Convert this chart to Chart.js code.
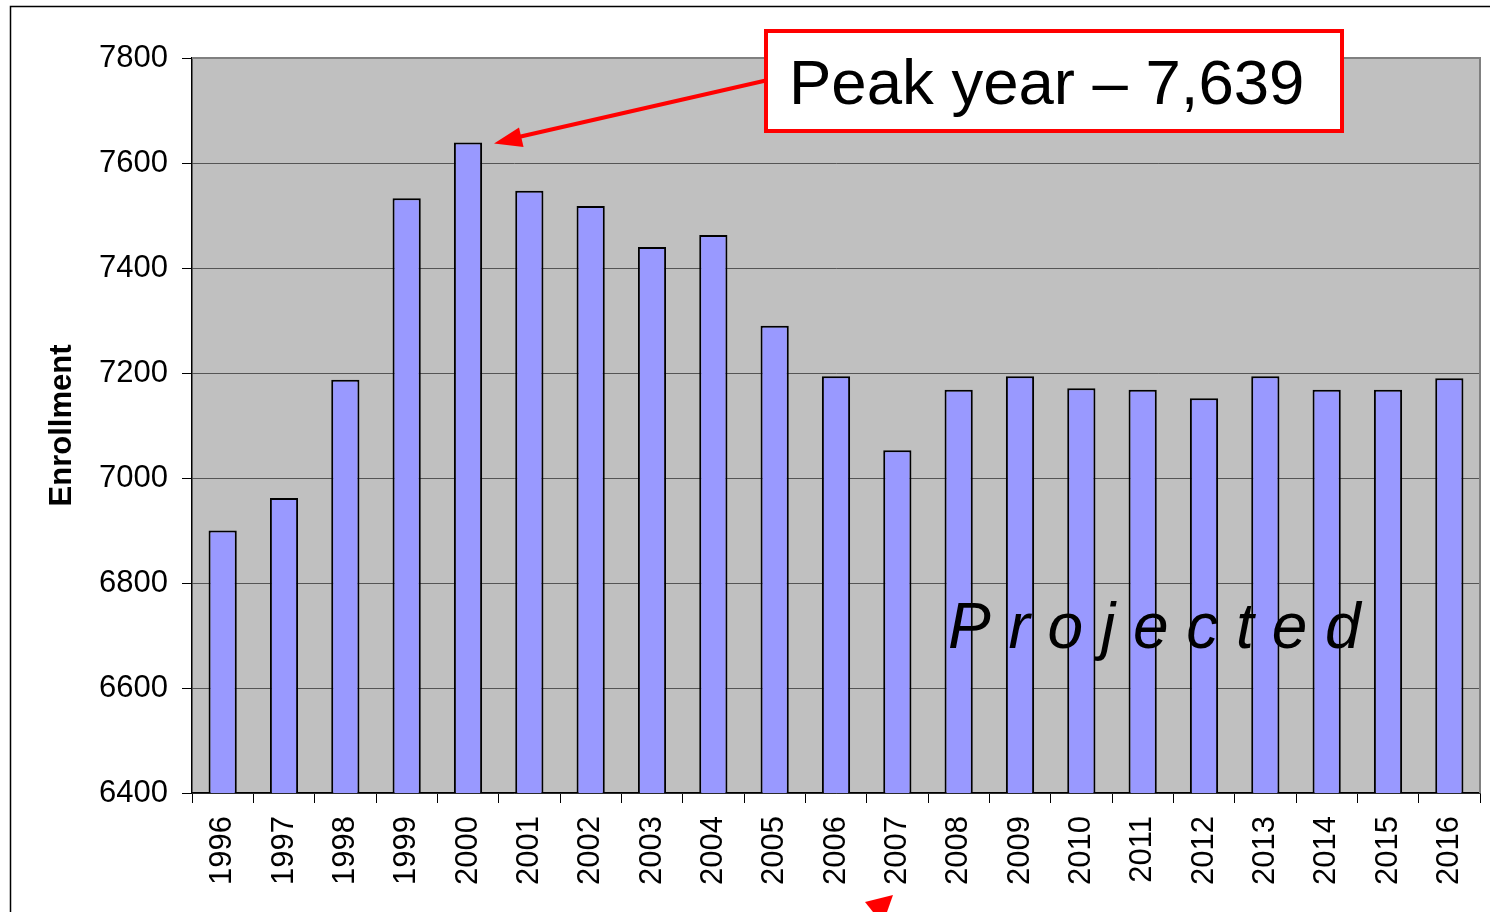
<!DOCTYPE html>
<html>
<head>
<meta charset="utf-8">
<script src="https://cdn.jsdelivr.net/npm/chart.js@4"></script>
<style>
  html, body { margin: 0; padding: 0; background: #fff; }
  #wrap { width: 1490px; height: 912px; }
</style>
</head>
<body>
<div id="wrap"><canvas id="enrollChart" width="1490" height="912"></canvas></div>
<script>
// years on the x axis
const years = ["1996", "1997", "1998", "1999", "2000", "2001", "2002", "2003", "2004", "2005", "2006",
    "2007", "2008", "2009", "2010", "2011", "2012", "2013", "2014", "2015", "2016"];

// enrollment per year (2007 onward projected)
const enrollment = [6900, 6962, 7187, 7533, 7639, 7547, 7518, 7440, 7463, 7290, 7194,
    7053, 7168, 7194, 7171, 7168, 7152, 7194, 7168, 7168, 7190];

// y axis range and step
const yMin = 6400;
const yMax = 7800;
const yStep = 200;

const peakLabel = "Peak year \u2013 7,639";
const projectedLabel = "P r o j e c t e d";

const FONT = "'Liberation Sans', Arial, sans-serif";

// grey plot background + frame round the page
const backdrop = {
    id: "backdrop",
    beforeDraw(chart) {
        const ctx = chart.ctx;
        const a = chart.chartArea;
        ctx.save();
        ctx.fillStyle = "#ffffff";
        ctx.fillRect(0, 0, chart.width, chart.height);
        ctx.fillStyle = "#c0c0c0";
        ctx.fillRect(a.left, a.top, a.right - a.left, a.bottom - a.top);
        // outer frame (top and left edges only visible)
        ctx.strokeStyle = "#000";
        ctx.lineWidth = 1.5;
        ctx.beginPath();
        ctx.moveTo(chart.width, 6.5);
        ctx.lineTo(10.5, 6.5);
        ctx.lineTo(10.5, chart.height);
        ctx.stroke();
        ctx.restore();
    },
    afterDatasetsDraw(chart) {
        const ctx = chart.ctx;
        const a = chart.chartArea;
        ctx.save();
        ctx.strokeStyle = "#808080";
        ctx.lineWidth = 2;
        ctx.beginPath();
        ctx.moveTo(a.left, a.top);
        ctx.lineTo(a.right, a.top);
        ctx.lineTo(a.right, a.bottom);
        ctx.stroke();
        ctx.restore();
    }
};

function arrowHead(ctx, tipX, tipY, fromX, fromY, len, half) {
    const ang = Math.atan2(tipY - fromY, tipX - fromX);
    ctx.beginPath();
    ctx.moveTo(tipX, tipY);
    ctx.lineTo(tipX - len * Math.cos(ang) + half * Math.sin(ang), tipY - len * Math.sin(ang) - half * Math.cos(ang));
    ctx.lineTo(tipX - len * Math.cos(ang) - half * Math.sin(ang), tipY - len * Math.sin(ang) + half * Math.cos(ang));
    ctx.closePath();
    ctx.fill();
}

// callout box, arrows and the "Projected" overlay
const notes = {
    id: "notes",
    afterDraw(chart) {
        const ctx = chart.ctx;
        const x = chart.scales.x;
        const y = chart.scales.y;
        ctx.save();

        // Projected text over the bars
        ctx.fillStyle = "#000";
        ctx.font = "italic 64px " + FONT;
        ctx.textBaseline = "alphabetic";
        ctx.textAlign = "left";
        ctx.fillText(projectedLabel, 948, 648);

        // arrow to the peak bar
        const peakIdx = enrollment.indexOf(Math.max(...enrollment));
        const tipX = x.getPixelForValue(peakIdx) + 26;
        const tipY = y.getPixelForValue(enrollment[peakIdx]) + 1;
        const fromX = 768, fromY = 80;
        ctx.strokeStyle = "#ff0000";
        ctx.fillStyle = "#ff0000";
        ctx.lineWidth = 4;
        ctx.beginPath();
        ctx.moveTo(fromX, fromY);
        ctx.lineTo(tipX + 18, tipY - 5);
        ctx.stroke();
        arrowHead(ctx, tipX, tipY, fromX, fromY, 28, 10);

        // callout box
        ctx.fillStyle = "#ffffff";
        ctx.fillRect(766, 31, 576, 100);
        ctx.strokeStyle = "#ff0000";
        ctx.lineWidth = 4;
        ctx.strokeRect(766, 31, 576, 100);
        ctx.fillStyle = "#000";
        ctx.font = "63.5px " + FONT;
        ctx.fillText(peakLabel, 789, 104);

        // partial arrow at the bottom edge pointing at 2007
        ctx.fillStyle = "#ff0000";
        ctx.beginPath();
        ctx.moveTo(893, 895);
        ctx.lineTo(865, 902);
        ctx.lineTo(873, 912);
        ctx.lineTo(887, 912);
        ctx.closePath();
        ctx.fill();

        ctx.restore();
    }
};

const ctx = document.getElementById("enrollChart").getContext("2d");
new Chart(ctx, {
    type: "bar",
    data: {
        labels: years,
        datasets: [{
            label: "Enrollment",
            data: enrollment,
            backgroundColor: "#9999ff",
            borderColor: "#000000",
            borderWidth: 2,
            borderSkipped: "bottom",
            barPercentage: 0.46,
            categoryPercentage: 1.0
        }]
    },
    options: {
        responsive: false,
        animation: false,
        devicePixelRatio: 1,
        layout: { padding: { top: 58, right: 10, left: 0, bottom: 0 } },
        plugins: {
            legend: { display: false },
            tooltip: { enabled: false }
        },
        scales: {
            x: {
                offset: true,
                grid: {
                    offset: true,
                    drawOnChartArea: false,
                    drawTicks: true,
                    tickLength: 10,
                    tickColor: "#000",
                    lineWidth: 1
                },
                border: { color: "#000", width: 1.5 },
                ticks: {
                    color: "#000",
                    font: { family: FONT, size: 31 },
                    minRotation: 90,
                    maxRotation: 90,
                    padding: 13,
                    autoSkip: false
                },
                afterFit(scale) {
                    scale.height = 119;
                    scale.paddingLeft = 0;
                    scale.paddingRight = 0;
                }
            },
            y: {
                min: yMin,
                max: yMax,
                grid: {
                    color: "#555555",
                    lineWidth: 1,
                    tickLength: 10,
                    tickColor: "#000"
                },
                border: { color: "#000", width: 1.5 },
                ticks: {
                    stepSize: yStep,
                    color: "#000",
                    font: { family: FONT, size: 31 },
                    padding: 14,
                    callback: (v) => String(v)
                },
                title: {
                    display: true,
                    text: "Enrollment",
                    color: "#000",
                    font: { family: FONT, size: 31, weight: "bold" },
                    padding: { top: 44, bottom: 0 }
                },
                afterFit(scale) {
                    scale.width = 192;
                    scale.paddingTop = 0;
                    scale.paddingBottom = 0;
                }
            }
        }
    },
    plugins: [backdrop, notes]
});
</script>
</body>
</html>
